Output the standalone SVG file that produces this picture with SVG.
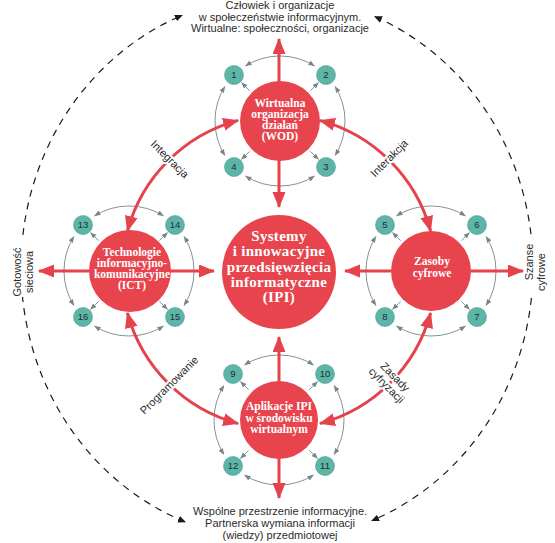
<svg xmlns="http://www.w3.org/2000/svg" xmlns:xlink="http://www.w3.org/1999/xlink" width="555" height="543" viewBox="0 0 555 543">
<style>
.red{fill:#e8444e}
.rl{fill:none;stroke:#e5434c;stroke-width:3}
.gl{fill:none;stroke:#74858c;stroke-width:0.9}
.dash{fill:none;stroke:#1a1a1a;stroke-width:1.2;stroke-dasharray:7 6}
.sm{fill:#5cb5a6;stroke:#4a9d90;stroke-width:0.6}
.num{font-family:"Liberation Sans",Arial,sans-serif;font-size:9.5px;fill:#23302f;text-anchor:middle}
.nt{font-family:"Liberation Serif","Times New Roman",serif;font-weight:bold;font-size:11.5px;fill:#ffffff;text-anchor:middle}
.ct{font-family:"Liberation Serif","Times New Roman",serif;font-weight:bold;font-size:15px;fill:#ffffff;text-anchor:middle;letter-spacing:0.3px}
.lb{font-family:"Liberation Sans",Arial,sans-serif;font-size:11px;fill:#2b2b2b;text-anchor:middle}
.halo{stroke:#ffffff;stroke-width:4;paint-order:stroke;stroke-linejoin:round}
</style>
<defs>
<marker id="ra" markerUnits="userSpaceOnUse" markerWidth="17" markerHeight="14" refX="15" refY="6.5" orient="auto-start-reverse">
<path d="M0,0 L16,6.5 L0,13 z" fill="#e5434c"/>
</marker>
<marker id="ga" markerUnits="userSpaceOnUse" markerWidth="7" markerHeight="6" refX="6" refY="2.5" orient="auto-start-reverse">
<path d="M0,0 L6.5,2.5 L0,5 z" fill="#74858c"/>
</marker>
<marker id="ka" markerUnits="userSpaceOnUse" markerWidth="9" markerHeight="8" refX="7" refY="3.5" orient="auto-start-reverse">
<path d="M0,0 L8,3.5 L0,7 z" fill="#1a1a1a"/>
</marker>
<g id="ring">
<path class="gl" d="M-34.45,-55.12 A65,65 0 0 1 34.45,-55.12" marker-start="url(#ga)" marker-end="url(#ga)"/>
<path class="gl" d="M55.12,-34.45 A65,65 0 0 1 55.12,34.45" marker-start="url(#ga)" marker-end="url(#ga)"/>
<path class="gl" d="M34.45,55.12 A65,65 0 0 1 -34.45,55.12" marker-start="url(#ga)" marker-end="url(#ga)"/>
<path class="gl" d="M-55.12,34.45 A65,65 0 0 1 -55.12,-34.45" marker-start="url(#ga)" marker-end="url(#ga)"/>
<path class="gl" d="M-30.4,-30.4 L-38.5,-38.5" marker-end="url(#ga)"/>
<path class="gl" d="M30.4,-30.4 L38.5,-38.5" marker-end="url(#ga)"/>
<path class="gl" d="M30.4,30.4 L38.5,38.5" marker-end="url(#ga)"/>
<path class="gl" d="M-30.4,30.4 L-38.5,38.5" marker-end="url(#ga)"/>
</g>
</defs>
<rect x="0" y="0" width="555" height="543" fill="#ffffff"/>

<g id="connectors">
<path class="dash" d="M375,16.7 A256,272 0 0 1 531.6,240" marker-start="url(#ka)"/>
<path class="dash" d="M531.4,298 A256,272 0 0 1 372,520.6" marker-end="url(#ka)"/>
<path class="dash" d="M185,521.8 A256,272 0 0 1 22.5,297" marker-start="url(#ka)"/>
<path class="dash" d="M22.9,235 A256,272 0 0 1 182,15.4" marker-end="url(#ka)"/>
<use xlink:href="#ring" href="#ring" transform="translate(280,121)"/>
<use xlink:href="#ring" href="#ring" transform="translate(431,271)"/>
<use xlink:href="#ring" href="#ring" transform="translate(279,420)"/>
<use xlink:href="#ring" href="#ring" transform="translate(129,271)"/>
<path class="rl" d="M279,82 L279,39" marker-end="url(#ra)"/>
<path class="rl" d="M279,160 L279,207" marker-end="url(#ra)"/>
<path class="rl" d="M279,381 L279,337" marker-end="url(#ra)"/>
<path class="rl" d="M279,459 L279,498" marker-end="url(#ra)"/>
<path class="rl" d="M170,271 L214,271" marker-end="url(#ra)"/>
<path class="rl" d="M89,271 L39,271" marker-end="url(#ra)"/>
<path class="rl" d="M391,271 L345,271" marker-end="url(#ra)"/>
<path class="rl" d="M471,271 L523,271" marker-end="url(#ra)"/>
<path class="rl" d="M127.4,231.1 A157,157 0 0 1 238.1,120.4" marker-start="url(#ra)" marker-end="url(#ra)"/>
<path class="rl" d="M319.9,120.4 A157,157 0 0 1 430.6,231.1" marker-start="url(#ra)" marker-end="url(#ra)"/>
<path class="rl" d="M430.6,312.9 A157,157 0 0 1 319.9,423.6" marker-start="url(#ra)" marker-end="url(#ra)"/>
<path class="rl" d="M238.1,423.6 A157,157 0 0 1 127.4,312.9" marker-start="url(#ra)" marker-end="url(#ra)"/>
<text class="lb halo" transform="translate(170,159) rotate(45)" y="4">Integracja</text>
<text class="lb halo" transform="translate(389,158) rotate(-45)" y="4">Interakcja</text>
<text class="lb halo" transform="translate(169,385) rotate(-45)" y="4">Programowanie</text>
<g transform="translate(391,381) rotate(45)">
<text class="lb halo" y="-2">Zasady</text>
<text class="lb halo" y="10">cyfryzacji</text>
</g>
</g>

<g id="node-ipi">
<circle class="red" cx="279" cy="272" r="57"/>
<text class="ct" x="279" y="241">Systemy</text>
<text class="ct" x="279" y="256.3">i innowacyjne</text>
<text class="ct" x="279" y="271.6">przedsięwzięcia</text>
<text class="ct" x="279" y="286.9">informatyczne</text>
<text class="ct" x="279" y="302.2">(IPI)</text>
</g>
<g id="node-wod">
<circle class="red" cx="280" cy="121" r="40"/>
<text class="nt" x="280" y="106.5">Wirtualna</text>
<text class="nt" x="280" y="117.5">organizacja</text>
<text class="nt" x="280" y="128.5">działań</text>
<text class="nt" x="280" y="139.5">(WOD)</text>
</g>
<g id="node-zasoby">
<circle class="red" cx="431" cy="271" r="40"/>
<text class="nt" x="432" y="265">Zasoby</text>
<text class="nt" x="432" y="277">cyfrowe</text>
</g>
<g id="node-aplikacje">
<circle class="red" cx="279" cy="420" r="39"/>
<text class="nt" x="279" y="410">Aplikacje IPI</text>
<text class="nt" x="279" y="421.5">w środowisku</text>
<text class="nt" x="279" y="433">wirtualnym</text>
</g>
<g id="node-ict">
<circle class="red" cx="130" cy="271" r="41"/>
<text class="nt" x="132" y="255.5">Technologie</text>
<text class="nt" x="132" y="266.5">informacyjno-</text>
<text class="nt" x="132" y="277.5">komunikacyjne</text>
<text class="nt" x="132" y="288.5">(ICT)</text>
</g>

<g id="n1"><circle class="sm" cx="234" cy="75" r="9.5"/><text class="num" x="234" y="78.3">1</text></g>
<g id="n2"><circle class="sm" cx="326" cy="75" r="9.5"/><text class="num" x="326" y="78.3">2</text></g>
<g id="n3"><circle class="sm" cx="326" cy="167" r="9.5"/><text class="num" x="326" y="170.3">3</text></g>
<g id="n4"><circle class="sm" cx="234" cy="167" r="9.5"/><text class="num" x="234" y="170.3">4</text></g>
<g id="n5"><circle class="sm" cx="385" cy="225" r="9.5"/><text class="num" x="385" y="228.3">5</text></g>
<g id="n6"><circle class="sm" cx="477" cy="225" r="9.5"/><text class="num" x="477" y="228.3">6</text></g>
<g id="n7"><circle class="sm" cx="477" cy="317" r="9.5"/><text class="num" x="477" y="320.3">7</text></g>
<g id="n8"><circle class="sm" cx="385" cy="317" r="9.5"/><text class="num" x="385" y="320.3">8</text></g>
<g id="n9"><circle class="sm" cx="233" cy="374" r="9.5"/><text class="num" x="233" y="377.3">9</text></g>
<g id="n10"><circle class="sm" cx="325" cy="374" r="9.5"/><text class="num" x="325" y="377.3">10</text></g>
<g id="n11"><circle class="sm" cx="325" cy="466" r="9.5"/><text class="num" x="325" y="469.3">11</text></g>
<g id="n12"><circle class="sm" cx="233" cy="466" r="9.5"/><text class="num" x="233" y="469.3">12</text></g>
<g id="n13"><circle class="sm" cx="83" cy="225" r="9.5"/><text class="num" x="83" y="228.3">13</text></g>
<g id="n14"><circle class="sm" cx="175" cy="225" r="9.5"/><text class="num" x="175" y="228.3">14</text></g>
<g id="n15"><circle class="sm" cx="175" cy="317" r="9.5"/><text class="num" x="175" y="320.3">15</text></g>
<g id="n16"><circle class="sm" cx="83" cy="317" r="9.5"/><text class="num" x="83" y="320.3">16</text></g>

<g id="label-top">
<text class="lb" x="280" y="9">Człowiek i organizacje</text>
<text class="lb" x="280" y="20.5">w społeczeństwie informacyjnym.</text>
<text class="lb" x="280" y="32">Wirtualne: społeczności, organizacje</text>
</g>
<g id="label-bottom">
<text class="lb" x="280" y="515">Wspólne przestrzenie informacyjne.</text>
<text class="lb" x="280" y="527">Partnerska wymiana informacji</text>
<text class="lb" x="280" y="538.5">(wiedzy) przedmiotowej</text>
</g>
<g id="label-left" transform="translate(21,272) rotate(-90)">
<text class="lb" x="0" y="0">Gotowość</text>
<text class="lb" x="0" y="11.5">sieciowa</text>
</g>
<g id="label-right" transform="translate(533,267) rotate(-90)">
<text class="lb" x="5" y="0">Szanse</text>
<text class="lb" x="-5" y="11.5">cyfrowe</text>
</g>
</svg>
